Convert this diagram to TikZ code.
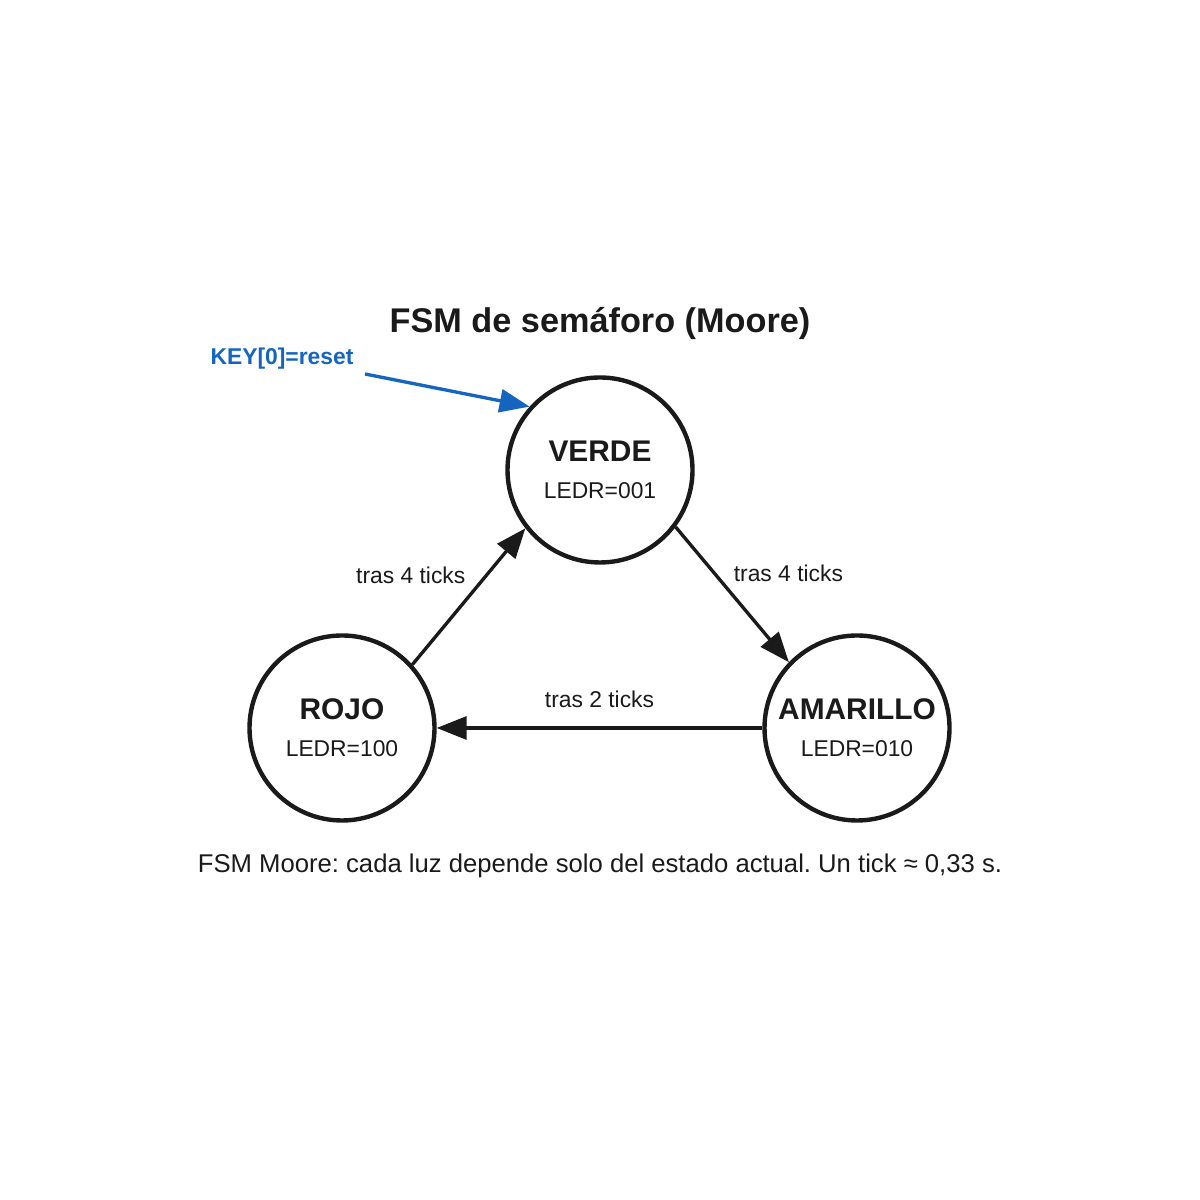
\documentclass[tikz,border=0pt]{standalone}
\usepackage{fontspec}
\setmainfont{Liberation Sans}
\usetikzlibrary{arrows.meta}
\definecolor{ink}{HTML}{1A1A1A}
\definecolor{keyblue}{HTML}{1565C0}
\frenchspacing
\begin{document}
\begin{tikzpicture}[
  state/.style={circle, draw=ink, line width=2.5pt, minimum size=3.7cm, inner sep=0pt, align=center, text=ink, font=\fontsize{13}{21}\selectfont},
  trans/.style={draw=ink, line width=1.9pt, -{Triangle[length=0.6cm,width=0.46cm]}},
  lbl/.style={text=ink, font=\fontsize{13}{15}\selectfont}
]
\useasboundingbox (0,0) rectangle (24,24);
% Title
\node[text=ink, font=\bfseries\fontsize{19.5}{23}\selectfont] (title) at (12,17.52) {FSM de sem\'aforo (Moore)};

% States
\node[state] (verde) at (12,14.6) {{\bfseries\fontsize{17}{20}\selectfont VERDE}\\[0pt]LEDR=001};
\node[state] (rojo) at (6.84,9.44) {{\bfseries\fontsize{17}{20}\selectfont ROJO}\\[0pt]LEDR=100};
\node[state] (amarillo) at (17.14,9.44) {{\bfseries\fontsize{17}{20}\selectfont AMARILLO}\\[0pt]LEDR=010};

% Reset
\node[text=keyblue, font=\bfseries\fontsize{13}{15}\selectfont] (key) at (5.64,16.83) {KEY[0]=reset};
\coordinate (keystart) at (7.3,16.52);
\draw[keyblue, line width=1.9pt, -{Triangle[length=0.6cm,width=0.46cm]}] (keystart) -- (verde.138);

% Transitions
\draw[trans] (verde.-37) -- node[lbl, above right, xshift=-0.12cm, yshift=0.1cm] {tras 4 ticks} (amarillo.136);
\draw[trans] (amarillo.180) -- node[lbl, above=7pt] {tras 2 ticks} (rojo.0);
\draw[trans] (rojo.42) -- node[lbl, above left, xshift=0.08cm, yshift=0.1cm] {tras 4 ticks} (verde.218);

\node[text=ink, font=\fontsize{14.6}{17}\selectfont] (note) at (12,6.68) {FSM Moore: cada luz depende solo del estado actual. Un tick ≈ 0,33 s.};

\end{tikzpicture}
\end{document}
